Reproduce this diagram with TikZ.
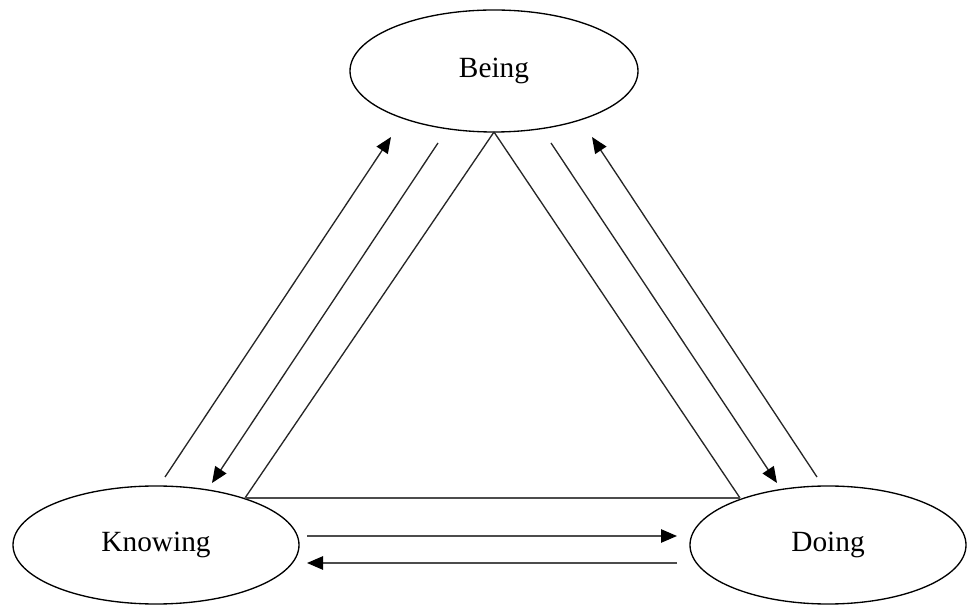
\documentclass[tikz,border=0pt]{standalone}
\usepackage{fontspec}
\setmainfont{Liberation Serif}
\usetikzlibrary{shapes.geometric,arrows.meta}
\begin{document}
\begin{tikzpicture}[x=0.75pt,y=-0.75pt,
  state/.style={draw,ellipse,line width=1pt,inner sep=0pt,font=\fontsize{22}{26}\selectfont},
  link/.style={line width=1pt,black!85},
  arr/.style={link,-{Triangle[length=12pt,width=10pt,color=black]}},
  hlink/.style={line width=1.2pt,black!70},
  harr/.style={hlink,-{Triangle[length=12pt,width=10pt,color=black]}}]
\useasboundingbox (0,0) rectangle (968,605);
\node[state,minimum width=216pt,minimum height=91.5pt] (being) at (494,71) {Being};
\node[state,minimum width=214.5pt,minimum height=88.5pt] (knowing) at (156,545) {Knowing};
\node[state,minimum width=207pt,minimum height=88.5pt] (doing) at (828,545) {Doing};
% triangle vertices
\coordinate (apex) at (494,132);
\coordinate (kv) at (245,498);
\coordinate (dv) at (740,498);
\draw[link] (apex) -- (kv);
\draw[link] (apex) -- (dv);
\draw[hlink] (kv) -- (dv);
% left pair
\coordinate (kuS) at (165,477);
\coordinate (kuE) at (391,137);
\coordinate (kdS) at (438,143);
\coordinate (kdE) at (212,483);
\draw[arr] (kuS) -- (kuE);
\draw[arr] (kdS) -- (kdE);
% right pair
\coordinate (ddS) at (551,143);
\coordinate (ddE) at (777,483);
\coordinate (duS) at (817,477);
\coordinate (duE) at (592,137);
\draw[arr] (ddS) -- (ddE);
\draw[arr] (duS) -- (duE);
% horizontal pair
\coordinate (hrS) at (307,536);
\coordinate (hrE) at (677,536);
\coordinate (hlS) at (677,563);
\coordinate (hlE) at (307,563);
\draw[harr] (hrS) -- (hrE);
\draw[harr] (hlS) -- (hlE);
\end{tikzpicture}
\end{document}
